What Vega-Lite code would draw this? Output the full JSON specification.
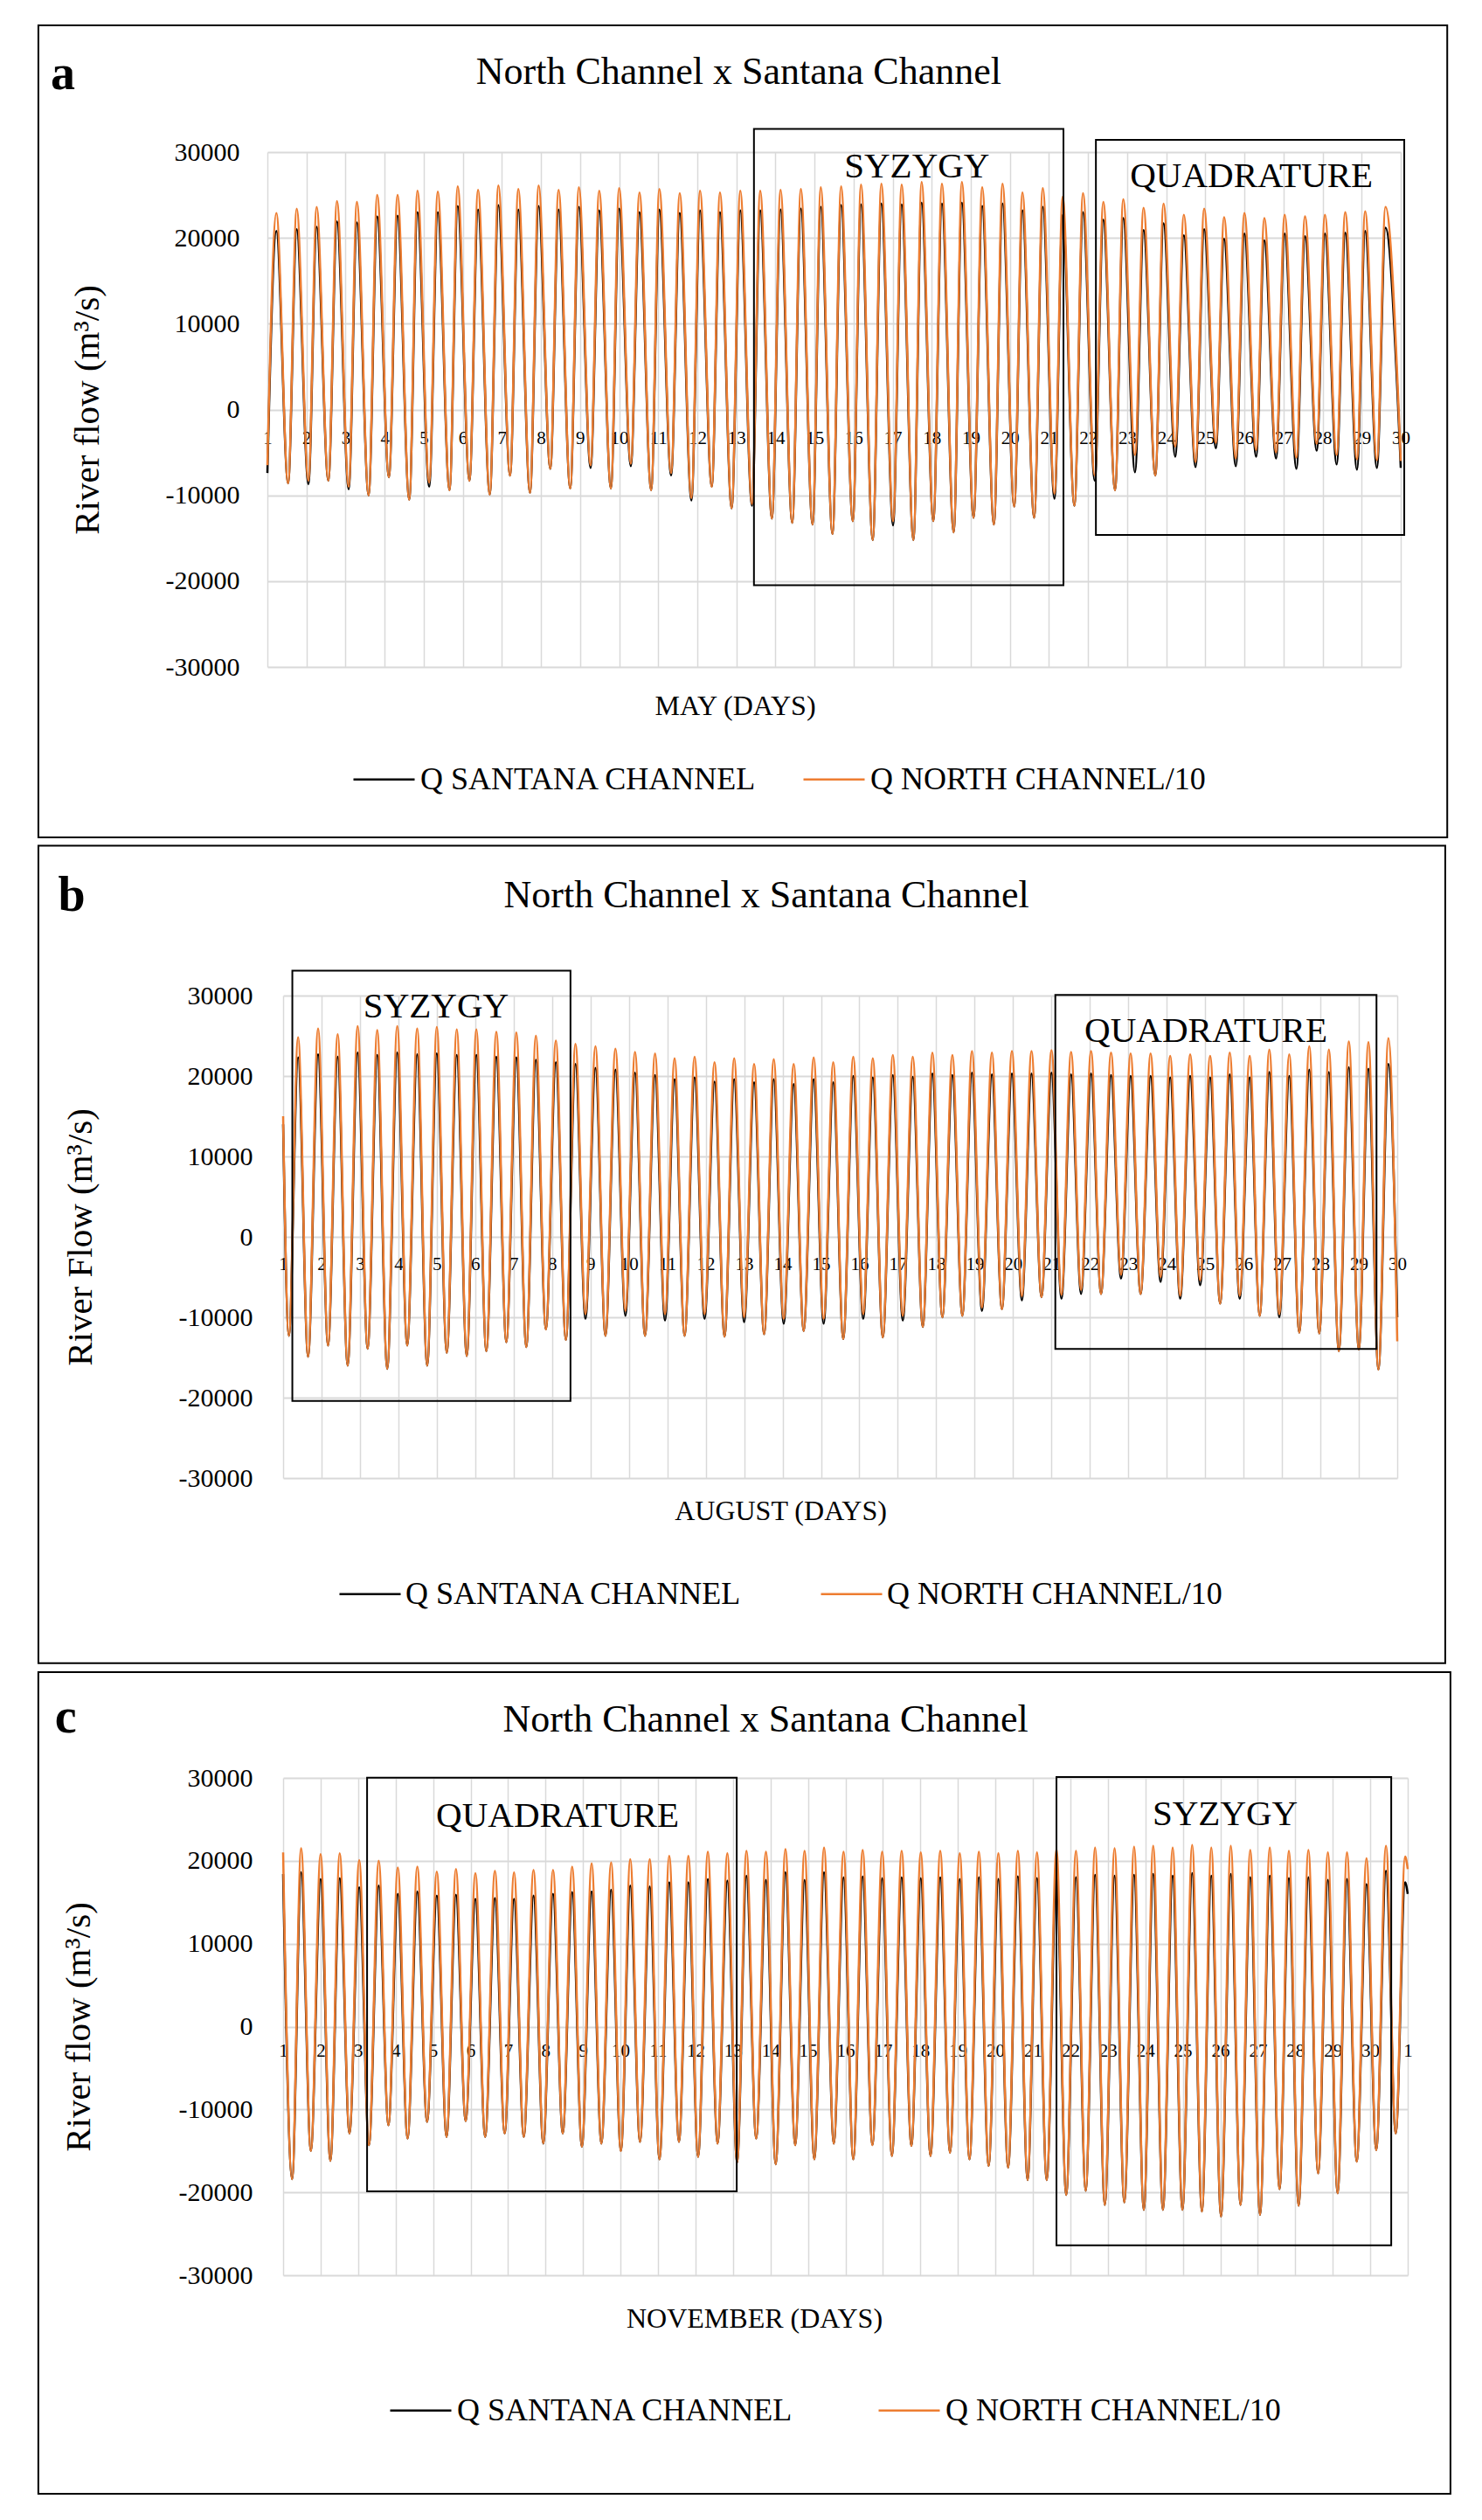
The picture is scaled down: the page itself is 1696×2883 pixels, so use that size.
{
"$schema":"https://vega.github.io/schema/vega-lite/v6.json",
"background":"#ffffff",
"padding":{"left":42,"top":28,"right":0,"bottom":0},
"datasets":{
"A":[{"t":1,"s":-7400,"n":-6500},
{"t":1.23,"s":20800,"n":22900},{"t":1.53,"s":-8600,"n":-8600},
{"t":1.75,"s":21000,"n":23400},{"t":2.05,"s":-8700,"n":-8300},
{"t":2.26,"s":21300,"n":23600},{"t":2.56,"s":-8300,"n":-8300},
{"t":2.78,"s":21900,"n":24300},{"t":3.08,"s":-9300,"n":-9000},
{"t":3.29,"s":21800,"n":24200},{"t":3.59,"s":-10000,"n":-10000},
{"t":3.81,"s":22500,"n":25000},{"t":4.11,"s":-7900,"n":-7900},
{"t":4.33,"s":22600,"n":25000},{"t":4.63,"s":-10500,"n":-10500},
{"t":4.84,"s":23000,"n":25500},{"t":5.14,"s":-9000,"n":-8500},
{"t":5.36,"s":23000,"n":25400},{"t":5.66,"s":-9400,"n":-9400},
{"t":5.87,"s":23700,"n":26000},{"t":6.17,"s":-8300,"n":-8300},
{"t":6.39,"s":23300,"n":25600},{"t":6.69,"s":-9900,"n":-9900},
{"t":6.91,"s":23800,"n":26100},{"t":7.21,"s":-7700,"n":-7700},
{"t":7.42,"s":23300,"n":25700},{"t":7.72,"s":-9700,"n":-9700},
{"t":7.94,"s":23700,"n":26100},{"t":8.24,"s":-6900,"n":-6900},
{"t":8.45,"s":23300,"n":25600},{"t":8.75,"s":-9200,"n":-9200},
{"t":8.97,"s":23600,"n":25900},{"t":9.27,"s":-6800,"n":-6500},
{"t":9.49,"s":23200,"n":25500},{"t":9.79,"s":-9200,"n":-9200},
{"t":10.0,"s":23400,"n":25800},{"t":10.3,"s":-6600,"n":-6300},
{"t":10.52,"s":23000,"n":25300},{"t":10.82,"s":-9400,"n":-9400},
{"t":11.03,"s":23300,"n":25700},{"t":11.33,"s":-7700,"n":-7400},
{"t":11.55,"s":22900,"n":25200},{"t":11.85,"s":-10600,"n":-10300},
{"t":12.07,"s":23200,"n":25500},{"t":12.37,"s":-9000,"n":-9000},
{"t":12.58,"s":23000,"n":25300},{"t":12.88,"s":-11500,"n":-11500},
{"t":13.1,"s":23200,"n":25500},{"t":13.4,"s":-11200,"n":-11000},
{"t":13.61,"s":23200,"n":25500},{"t":13.91,"s":-12700,"n":-12700},
{"t":14.13,"s":23300,"n":25600},{"t":14.43,"s":-13200,"n":-13200},
{"t":14.65,"s":23400,"n":25700},{"t":14.95,"s":-13400,"n":-13400},
{"t":15.16,"s":23600,"n":25900},{"t":15.46,"s":-14500,"n":-14500},
{"t":15.68,"s":23800,"n":26000},{"t":15.98,"s":-13000,"n":-13000},
{"t":16.19,"s":23900,"n":26200},{"t":16.49,"s":-15200,"n":-15200},
{"t":16.71,"s":24000,"n":26300},{"t":17.01,"s":-13500,"n":-13000},
{"t":17.23,"s":23900,"n":26200},{"t":17.53,"s":-15200,"n":-15200},
{"t":17.74,"s":24100,"n":26500},{"t":18.04,"s":-13000,"n":-13000},
{"t":18.26,"s":24000,"n":26300},{"t":18.56,"s":-14300,"n":-14300},
{"t":18.77,"s":24100,"n":26500},{"t":19.07,"s":-12600,"n":-12600},
{"t":19.29,"s":23700,"n":25900},{"t":19.59,"s":-13400,"n":-13400},
{"t":19.81,"s":24000,"n":26300},{"t":20.11,"s":-11300,"n":-11300},
{"t":20.32,"s":23200,"n":25300},{"t":20.62,"s":-12600,"n":-12600},
{"t":20.84,"s":23600,"n":25800},{"t":21.14,"s":-10400,"n":-9800},
{"t":21.35,"s":22700,"n":24800},{"t":21.65,"s":-11200,"n":-11200},
{"t":21.87,"s":23000,"n":25200},{"t":22.17,"s":-8300,"n":-7700},
{"t":22.39,"s":22100,"n":24200},{"t":22.69,"s":-9400,"n":-9400},
{"t":22.9,"s":22300,"n":24500},{"t":23.2,"s":-7300,"n":-5300},
{"t":23.42,"s":20900,"n":23500},{"t":23.72,"s":-7700,"n":-7700},
{"t":23.93,"s":21700,"n":24000},{"t":24.23,"s":-5500,"n":-4300},
{"t":24.45,"s":20300,"n":22700},{"t":24.75,"s":-6700,"n":-6100},
{"t":24.97,"s":21000,"n":23400},{"t":25.27,"s":-4500,"n":-3900},
{"t":25.48,"s":19900,"n":22400},{"t":25.78,"s":-6600,"n":-5700},
{"t":26.0,"s":20500,"n":22900},{"t":26.3,"s":-5500,"n":-4700},
{"t":26.51,"s":19700,"n":22300},{"t":26.81,"s":-5700,"n":-5000},
{"t":27.03,"s":20500,"n":22700},{"t":27.33,"s":-6900,"n":-5600},
{"t":27.55,"s":20200,"n":22500},{"t":27.85,"s":-4800,"n":-4000},
{"t":28.06,"s":20500,"n":22700},{"t":28.36,"s":-6400,"n":-5300},
{"t":28.58,"s":20600,"n":23000},{"t":28.88,"s":-7000,"n":-5800},
{"t":29.09,"s":20800,"n":23100},{"t":29.39,"s":-6800,"n":-5900},
{"t":29.61,"s":21200,"n":23600},{"t":30,"s":-6800,"n":-6000}],
"B":[{"t":1,"s":14000,"n":15000},{"t":1.15,"s":-12300,"n":-12300},
{"t":1.39,"s":22300,"n":24800},{"t":1.65,"s":-14900,"n":-14900},
{"t":1.91,"s":22700,"n":25900},{"t":2.17,"s":-13500,"n":-13500},
{"t":2.42,"s":22400,"n":25200},{"t":2.68,"s":-16000,"n":-16000},
{"t":2.94,"s":22900,"n":26200},{"t":3.2,"s":-13900,"n":-13900},
{"t":3.45,"s":22600,"n":25700},{"t":3.71,"s":-16400,"n":-16400},
{"t":3.97,"s":22900,"n":26200},{"t":4.23,"s":-13500,"n":-13500},
{"t":4.49,"s":22700,"n":25900},{"t":4.75,"s":-16000,"n":-16000},
{"t":5.0,"s":22800,"n":26100},{"t":5.26,"s":-14400,"n":-14400},
{"t":5.52,"s":22600,"n":25800},{"t":5.78,"s":-14800,"n":-14800},
{"t":6.03,"s":22600,"n":25800},{"t":6.29,"s":-14200,"n":-14200},
{"t":6.55,"s":22400,"n":25500},{"t":6.81,"s":-13100,"n":-13100},
{"t":7.07,"s":22300,"n":25400},{"t":7.33,"s":-13700,"n":-13700},
{"t":7.58,"s":22000,"n":25000},{"t":7.84,"s":-11500,"n":-11500},
{"t":8.1,"s":21700,"n":24400},{"t":8.36,"s":-12800,"n":-12800},
{"t":8.61,"s":21500,"n":24000},{"t":8.87,"s":-10200,"n":-9600},
{"t":9.13,"s":21000,"n":23700},{"t":9.39,"s":-12300,"n":-12300},
{"t":9.65,"s":20800,"n":23400},{"t":9.91,"s":-9800,"n":-9200},
{"t":10.16,"s":20400,"n":23000},{"t":10.42,"s":-12300,"n":-12300},
{"t":10.68,"s":20100,"n":22800},{"t":10.94,"s":-10400,"n":-9600},
{"t":11.19,"s":19600,"n":22200},{"t":11.45,"s":-12300,"n":-12300},
{"t":11.71,"s":19800,"n":22400},{"t":11.97,"s":-10200,"n":-9600},
{"t":12.23,"s":19300,"n":21700},{"t":12.49,"s":-12400,"n":-12400},
{"t":12.74,"s":19600,"n":22200},{"t":13.0,"s":-10600,"n":-10000},
{"t":13.26,"s":19200,"n":21500},{"t":13.52,"s":-12100,"n":-12100},
{"t":13.77,"s":19600,"n":22100},{"t":14.03,"s":-10800,"n":-10200},
{"t":14.29,"s":19000,"n":21500},{"t":14.55,"s":-11700,"n":-11700},
{"t":14.81,"s":19600,"n":22300},{"t":15.07,"s":-10800,"n":-10200},
{"t":15.32,"s":19200,"n":21700},{"t":15.58,"s":-12700,"n":-12700},
{"t":15.84,"s":20000,"n":22400},{"t":16.1,"s":-10200,"n":-9600},
{"t":16.35,"s":19800,"n":22200},{"t":16.61,"s":-12500,"n":-12500},
{"t":16.87,"s":20100,"n":22600},{"t":17.13,"s":-10400,"n":-9800},
{"t":17.39,"s":19900,"n":22400},{"t":17.65,"s":-11200,"n":-11200},
{"t":17.9,"s":20300,"n":22900},{"t":18.16,"s":-10000,"n":-10000},
{"t":18.42,"s":20100,"n":22600},{"t":18.68,"s":-9800,"n":-9800},
{"t":18.93,"s":20400,"n":23100},{"t":19.19,"s":-9200,"n":-8800},
{"t":19.45,"s":20200,"n":22900},{"t":19.71,"s":-9000,"n":-9000},
{"t":19.97,"s":20300,"n":23100},{"t":20.23,"s":-7900,"n":-7400},
{"t":20.48,"s":20300,"n":23100},{"t":20.74,"s":-7500,"n":-7500},
{"t":21.0,"s":20400,"n":23200},{"t":21.26,"s":-7700,"n":-7200},
{"t":21.51,"s":20200,"n":23000},{"t":21.77,"s":-7100,"n":-6600},
{"t":22.03,"s":20300,"n":23100},{"t":22.29,"s":-7100,"n":-7100},
{"t":22.55,"s":20100,"n":22900},{"t":22.81,"s":-5200,"n":-4700},
{"t":23.06,"s":20000,"n":22800},{"t":23.32,"s":-7100,"n":-7100},
{"t":23.58,"s":20000,"n":22800},{"t":23.84,"s":-5600,"n":-5000},
{"t":24.09,"s":19800,"n":22500},{"t":24.35,"s":-7700,"n":-7300},
{"t":24.61,"s":20000,"n":22700},{"t":24.87,"s":-6000,"n":-5400},
{"t":25.13,"s":19800,"n":22500},{"t":25.39,"s":-8300,"n":-8300},
{"t":25.64,"s":20200,"n":22900},{"t":25.9,"s":-7700,"n":-7300},
{"t":26.16,"s":19800,"n":22500},{"t":26.42,"s":-9800,"n":-9800},
{"t":26.67,"s":20500,"n":23300},{"t":26.93,"s":-10000,"n":-9600},
{"t":27.19,"s":20000,"n":22700},{"t":27.45,"s":-11900,"n":-11900},
{"t":27.71,"s":20800,"n":23700},{"t":27.97,"s":-12000,"n":-12000},
{"t":28.22,"s":20500,"n":23300},{"t":28.48,"s":-14200,"n":-14200},
{"t":28.74,"s":21100,"n":24300},{"t":29.0,"s":-14000,"n":-14000},
{"t":29.25,"s":20900,"n":24200},{"t":29.51,"s":-16500,"n":-16500},
{"t":29.77,"s":21500,"n":24700},{"t":30,"s":-10000,"n":-13000}],
"C":[{"t":1,"s":18400,"n":21000},{"t":1.24,"s":-18400,"n":-18400},
{"t":1.48,"s":18600,"n":21500},{"t":1.74,"s":-15000,"n":-15000},
{"t":2.0,"s":17800,"n":20800},{"t":2.26,"s":-16200,"n":-16200},
{"t":2.51,"s":17900,"n":20900},{"t":2.77,"s":-12900,"n":-12900},
{"t":3.03,"s":16800,"n":20100},{"t":3.29,"s":-14300,"n":-14300},
{"t":3.55,"s":17000,"n":20000},{"t":3.81,"s":-11900,"n":-11900},
{"t":4.06,"s":16000,"n":19200},{"t":4.32,"s":-13500,"n":-13500},
{"t":4.58,"s":16300,"n":19300},{"t":4.84,"s":-11500,"n":-11500},
{"t":5.1,"s":15800,"n":18700},{"t":5.36,"s":-13300,"n":-13300},
{"t":5.61,"s":15900,"n":19000},{"t":5.87,"s":-11400,"n":-11400},
{"t":6.13,"s":15400,"n":18500},{"t":6.39,"s":-13300,"n":-13300},
{"t":6.65,"s":15500,"n":18800},{"t":6.91,"s":-12900,"n":-12900},
{"t":7.16,"s":15400,"n":18600},{"t":7.42,"s":-13300,"n":-13300},
{"t":7.68,"s":15800,"n":18900},{"t":7.94,"s":-14100,"n":-14100},
{"t":8.2,"s":16000,"n":18900},{"t":8.46,"s":-12900,"n":-12900},
{"t":8.71,"s":16200,"n":19300},{"t":8.97,"s":-14500,"n":-14500},
{"t":9.23,"s":16300,"n":19700},{"t":9.49,"s":-14100,"n":-14100},
{"t":9.75,"s":16500,"n":19800},{"t":10.01,"s":-15000,"n":-15000},
{"t":10.26,"s":17000,"n":20200},{"t":10.52,"s":-13900,"n":-13900},
{"t":10.78,"s":16900,"n":20200},{"t":11.04,"s":-16000,"n":-16000},
{"t":11.3,"s":17400,"n":20600},{"t":11.56,"s":-13900,"n":-13900},
{"t":11.81,"s":17400,"n":20600},{"t":12.07,"s":-15700,"n":-15700},
{"t":12.33,"s":17800,"n":21100},{"t":12.59,"s":-14100,"n":-14100},
{"t":12.85,"s":17600,"n":20900},{"t":13.11,"s":-16400,"n":-16400},
{"t":13.36,"s":18200,"n":21200},{"t":13.62,"s":-13500,"n":-13500},
{"t":13.88,"s":17700,"n":21100},{"t":14.14,"s":-16600,"n":-16600},
{"t":14.4,"s":18600,"n":21400},{"t":14.66,"s":-14300,"n":-14300},
{"t":14.91,"s":17700,"n":21200},{"t":15.17,"s":-16000,"n":-16000},
{"t":15.43,"s":18600,"n":21600},{"t":15.69,"s":-14100,"n":-14100},
{"t":15.95,"s":18000,"n":21100},{"t":16.21,"s":-16000,"n":-16000},
{"t":16.46,"s":18100,"n":21300},{"t":16.72,"s":-14300,"n":-14300},
{"t":16.98,"s":17900,"n":21100},{"t":17.24,"s":-15600,"n":-15600},
{"t":17.5,"s":18000,"n":21200},{"t":17.76,"s":-14400,"n":-14400},
{"t":18.01,"s":17900,"n":21000},{"t":18.27,"s":-15600,"n":-15600},
{"t":18.53,"s":18000,"n":21200},{"t":18.79,"s":-15200,"n":-15200},
{"t":19.05,"s":17800,"n":20900},{"t":19.31,"s":-16000,"n":-16000},
{"t":19.56,"s":18000,"n":21100},{"t":19.82,"s":-16800,"n":-16800},
{"t":20.08,"s":17800,"n":20900},{"t":20.34,"s":-17000,"n":-17000},
{"t":20.6,"s":18100,"n":21200},{"t":20.86,"s":-18500,"n":-18500},
{"t":21.11,"s":17900,"n":21000},{"t":21.37,"s":-18500,"n":-18500},
{"t":21.63,"s":18200,"n":21400},{"t":21.89,"s":-20300,"n":-20300},
{"t":22.15,"s":18000,"n":21200},{"t":22.41,"s":-19800,"n":-19800},
{"t":22.66,"s":18300,"n":21600},{"t":22.92,"s":-21500,"n":-21500},
{"t":23.18,"s":18200,"n":21500},{"t":23.44,"s":-21200,"n":-21200},
{"t":23.7,"s":18300,"n":21700},{"t":23.96,"s":-22100,"n":-22100},
{"t":24.21,"s":18400,"n":21800},{"t":24.47,"s":-22100,"n":-22100},
{"t":24.73,"s":18200,"n":21600},{"t":24.99,"s":-22100,"n":-22100},
{"t":25.25,"s":18500,"n":21900},{"t":25.51,"s":-22300,"n":-22300},
{"t":25.76,"s":18200,"n":21600},{"t":26.02,"s":-22900,"n":-22900},
{"t":26.28,"s":18400,"n":21800},{"t":26.54,"s":-21500,"n":-21500},
{"t":26.8,"s":18000,"n":21300},{"t":27.06,"s":-22700,"n":-22700},
{"t":27.32,"s":18200,"n":21600},{"t":27.58,"s":-19600,"n":-19600},
{"t":27.83,"s":17900,"n":21200},{"t":28.09,"s":-21600,"n":-21600},
{"t":28.35,"s":18000,"n":21300},{"t":28.61,"s":-17700,"n":-17700},
{"t":28.87,"s":17700,"n":21000},{"t":29.13,"s":-20100,"n":-20100},
{"t":29.38,"s":17800,"n":21000},{"t":29.64,"s":-16300,"n":-16300},
{"t":29.9,"s":17200,"n":20300},{"t":30.16,"s":-14900,"n":-14900},
{"t":30.42,"s":18800,"n":21800},{"t":30.68,"s":-12900,"n":-12900},
{"t":30.93,"s":17400,"n":20500},{"t":31,"s":16000,"n":19000}]
},
"vconcat":[
{"width":1279,"height":589,
 "layer":[
  {"data":{"name":"A"},"mark":{"type":"line","interpolate":"monotone","strokeWidth":2.5},
   "encoding":{
    "x":{"field":"t","type":"quantitative","scale":{"domain":[1,30],"range":[-18,1279],"nice":false,"zero":false},
     "axis":{"values":[1,2,3,4,5,6,7,8,9,10,11,12,13,14,15,16,17,18,19,20,21,22,23,24,25,26,27,28,29,30],"grid":true,"gridColor":"#d9d9d9","gridWidth":1.5,"ticks":false,"domain":false,"labelFlush":false,"labelOverlap":false,"labelFontSize":21,"labelBaseline":"middle","labelPadding":-262,"title":"MAY (DAYS)","titleFontSize":32,"titleX":517,"titleY":44,"titleAlign":"center","titleBaseline":"middle"}},
    "y":{"field":"s","type":"quantitative","scale":{"domain":[-30000,30000],"nice":false,"zero":false},
     "axis":{"values":[-30000,-20000,-10000,0,10000,20000,30000],"labelExpr":"'' + datum.value","grid":true,"gridColor":"#d9d9d9","gridWidth":2,"ticks":false,"domain":false,"labelFontSize":30,"labelPadding":50,"title":"River flow (m³/s)","titleFontSize":41,"titleX":-224,"titleBaseline":"middle"}},
    "color":{"datum":"Q SANTANA CHANNEL","type":"nominal","scale":{"domain":["Q SANTANA CHANNEL","Q NORTH CHANNEL/10"],"range":["#000000","#ED7D31"]},
     "legend":{"orient":"none","legendX":79,"legendY":681,"direction":"horizontal","title":null,"labelFontSize":36,"symbolType":"stroke","symbolSize":4900,"symbolStrokeWidth":2.5,"labelOffset":5,"columnPadding":47,"labelLimit":1000}}}},
  {"data":{"name":"A"},"mark":{"type":"line","interpolate":"monotone","strokeWidth":2.5},
   "encoding":{"x":{"field":"t","type":"quantitative"},"y":{"field":"n","type":"quantitative"},"color":{"datum":"Q NORTH CHANNEL/10","type":"nominal"}}},
  {"data":{"values":[{"x1":13.45,"x2":21.37,"y1":-20470,"y2":32700},{"x1":22.2,"x2":30.09,"y1":-14620,"y2":31430},{"x1":-4.86,"x2":31.19,"y1":-49860,"y2":44770}]},
   "mark":{"type":"rect","filled":false,"stroke":"#000000","strokeWidth":2},
   "encoding":{"x":{"field":"x1","type":"quantitative"},"x2":{"field":"x2"},"y":{"field":"y1","type":"quantitative"},"y2":{"field":"y2"}}},
  {"data":{"values":[{"x":17.62,"y":28270,"label":"SYZYGY"},{"x":26.18,"y":27170,"label":"QUADRATURE"}]},
   "mark":{"type":"text","fontSize":41,"align":"center","baseline":"middle","color":"#000000"},
   "encoding":{"x":{"field":"x","type":"quantitative"},"y":{"field":"y","type":"quantitative"},"text":{"field":"label"}}},
  {"data":{"values":[{"x":13.06,"y":37940,"label":"North Channel x Santana Channel"}]},
   "mark":{"type":"text","fontSize":44,"align":"center","baseline":"alphabetic","color":"#000000"},
   "encoding":{"x":{"field":"x","type":"quantitative"},"y":{"field":"y","type":"quantitative"},"text":{"field":"label"}}},
  {"data":{"values":[{"x":-4.23,"y":37330,"label":"a"}]},
   "mark":{"type":"text","fontSize":56,"fontWeight":"bold","align":"center","baseline":"alphabetic","color":"#000000"},
   "encoding":{"x":{"field":"x","type":"quantitative"},"y":{"field":"y","type":"quantitative"},"text":{"field":"label"}}}
 ]},
{"width":1275,"height":552,
 "layer":[
  {"data":{"name":"B"},"mark":{"type":"line","interpolate":"monotone","strokeWidth":2.5},
   "encoding":{
    "x":{"field":"t","type":"quantitative","scale":{"domain":[1,30],"nice":false,"zero":false},
     "axis":{"values":[1,2,3,4,5,6,7,8,9,10,11,12,13,14,15,16,17,18,19,20,21,22,23,24,25,26,27,28,29,30],"grid":true,"gridColor":"#d9d9d9","gridWidth":1.5,"ticks":false,"domain":false,"labelFlush":false,"labelOverlap":false,"labelFontSize":21,"labelBaseline":"middle","labelPadding":-245,"title":"AUGUST (DAYS)","titleFontSize":32,"titleX":569,"titleY":37,"titleAlign":"center","titleBaseline":"middle"}},
    "y":{"field":"s","type":"quantitative","scale":{"domain":[-30000,30000],"nice":false,"zero":false},
     "axis":{"values":[-30000,-20000,-10000,0,10000,20000,30000],"labelExpr":"'' + datum.value","grid":true,"gridColor":"#d9d9d9","gridWidth":2,"ticks":false,"domain":false,"labelFontSize":30,"labelPadding":35,"title":"River Flow (m³/s)","titleFontSize":41,"titleX":-232,"titleBaseline":"middle"}},
    "color":{"datum":"Q SANTANA CHANNEL","type":"nominal","scale":{"domain":["Q SANTANA CHANNEL","Q NORTH CHANNEL/10"],"range":["#000000","#ED7D31"]},
     "legend":{"orient":"none","legendX":63,"legendY":648,"direction":"horizontal","title":null,"labelFontSize":36,"symbolType":"stroke","symbolSize":4900,"symbolStrokeWidth":2.5,"labelOffset":4,"columnPadding":84,"labelLimit":1000}}}},
  {"data":{"name":"B"},"mark":{"type":"line","interpolate":"monotone","strokeWidth":2.5},
   "encoding":{"x":{"field":"t","type":"quantitative"},"y":{"field":"n","type":"quantitative"},"color":{"datum":"Q NORTH CHANNEL/10","type":"nominal"}}},
  {"data":{"values":[{"x1":1.24,"x2":8.48,"y1":-20410,"y2":33100},{"x1":21.1,"x2":29.46,"y1":-13930,"y2":30090},{"x1":-5.37,"x2":31.25,"y1":-53020,"y2":48630}]},
   "mark":{"type":"rect","filled":false,"stroke":"#000000","strokeWidth":2},
   "encoding":{"x":{"field":"x1","type":"quantitative"},"x2":{"field":"x2"},"y":{"field":"y1","type":"quantitative"},"y2":{"field":"y2"}}},
  {"data":{"values":[{"x":4.98,"y":28640,"label":"SYZYGY"},{"x":25.02,"y":25520,"label":"QUADRATURE"}]},
   "mark":{"type":"text","fontSize":41,"align":"center","baseline":"middle","color":"#000000"},
   "encoding":{"x":{"field":"x","type":"quantitative"},"y":{"field":"y","type":"quantitative"},"text":{"field":"label"}}},
  {"data":{"values":[{"x":13.58,"y":41020,"label":"North Channel x Santana Channel"}]},
   "mark":{"type":"text","fontSize":44,"align":"center","baseline":"alphabetic","color":"#000000"},
   "encoding":{"x":{"field":"x","type":"quantitative"},"y":{"field":"y","type":"quantitative"},"text":{"field":"label"}}},
  {"data":{"values":[{"x":-4.5,"y":40590,"label":"b"}]},
   "mark":{"type":"text","fontSize":56,"fontWeight":"bold","align":"center","baseline":"alphabetic","color":"#000000"},
   "encoding":{"x":{"field":"x","type":"quantitative"},"y":{"field":"y","type":"quantitative"},"text":{"field":"label"}}}
 ]},
{"width":1287,"height":569,
 "layer":[
  {"data":{"name":"C"},"mark":{"type":"line","interpolate":"monotone","strokeWidth":2.5},
   "encoding":{
    "x":{"field":"t","type":"quantitative","scale":{"domain":[1,31],"nice":false,"zero":false},
     "axis":{"values":[1,2,3,4,5,6,7,8,9,10,11,12,13,14,15,16,17,18,19,20,21,22,23,24,25,26,27,28,29,30,31],"labelExpr":"datum.value == 31 ? '1' : '' + datum.value","grid":true,"gridColor":"#d9d9d9","gridWidth":1.5,"ticks":false,"domain":false,"labelFlush":false,"labelOverlap":false,"labelFontSize":21,"labelBaseline":"middle","labelPadding":-257,"title":"NOVEMBER (DAYS)","titleFontSize":32,"titleX":539,"titleY":49,"titleAlign":"center","titleBaseline":"middle"}},
    "y":{"field":"s","type":"quantitative","scale":{"domain":[-30000,30000],"nice":false,"zero":false},
     "axis":{"values":[-30000,-20000,-10000,0,10000,20000,30000],"labelExpr":"'' + datum.value","grid":true,"gridColor":"#d9d9d9","gridWidth":2,"ticks":false,"domain":false,"labelFontSize":30,"labelPadding":35,"title":"River flow (m³/s)","titleFontSize":41,"titleX":-234,"titleBaseline":"middle"}},
    "color":{"datum":"Q SANTANA CHANNEL","type":"nominal","scale":{"domain":["Q SANTANA CHANNEL","Q NORTH CHANNEL/10"],"range":["#000000","#ED7D31"]},
     "legend":{"orient":"none","legendX":121,"legendY":687,"direction":"horizontal","title":null,"labelFontSize":36,"symbolType":"stroke","symbolSize":4900,"symbolStrokeWidth":2.5,"labelOffset":5,"columnPadding":91,"labelLimit":1000}}}},
  {"data":{"name":"C"},"mark":{"type":"line","interpolate":"monotone","strokeWidth":2.5},
   "encoding":{"x":{"field":"t","type":"quantitative"},"y":{"field":"n","type":"quantitative"},"color":{"datum":"Q NORTH CHANNEL/10","type":"nominal"}}},
  {"data":{"values":[{"x1":3.24,"x2":13.1,"y1":-19880,"y2":30030},{"x1":21.63,"x2":30.56,"y1":-26380,"y2":30110},{"x1":-5.53,"x2":32.14,"y1":-56360,"y2":42760}]},
   "mark":{"type":"rect","filled":false,"stroke":"#000000","strokeWidth":2},
   "encoding":{"x":{"field":"x1","type":"quantitative"},"x2":{"field":"x2"},"y":{"field":"y1","type":"quantitative"},"y2":{"field":"y2"}}},
  {"data":{"values":[{"x":8.32,"y":25390,"label":"QUADRATURE"},{"x":26.13,"y":25590,"label":"SYZYGY"}]},
   "mark":{"type":"text","fontSize":41,"align":"center","baseline":"middle","color":"#000000"},
   "encoding":{"x":{"field":"x","type":"quantitative"},"y":{"field":"y","type":"quantitative"},"text":{"field":"label"}}},
  {"data":{"values":[{"x":13.87,"y":35590,"label":"North Channel x Santana Channel"}]},
   "mark":{"type":"text","fontSize":44,"align":"center","baseline":"alphabetic","color":"#000000"},
   "encoding":{"x":{"field":"x","type":"quantitative"},"y":{"field":"y","type":"quantitative"},"text":{"field":"label"}}},
  {"data":{"values":[{"x":-4.8,"y":35490,"label":"c"}]},
   "mark":{"type":"text","fontSize":56,"fontWeight":"bold","align":"center","baseline":"alphabetic","color":"#000000"},
   "encoding":{"x":{"field":"x","type":"quantitative"},"y":{"field":"y","type":"quantitative"},"text":{"field":"label"}}}
 ]}
],
"bounds":"full",
"spacing":7,
"resolve":{"scale":{"color":"independent"},"legend":{"color":"independent"}},
"config":{
 "font":"Liberation Serif",
 "view":{"stroke":null},
 "axis":{"labelFont":"Liberation Serif","titleFont":"Liberation Serif","labelColor":"#000000","titleColor":"#000000","titleFontWeight":"normal"},
 "legend":{"labelFont":"Liberation Serif","labelColor":"#000000"},
 "text":{"font":"Liberation Serif"}
}
}
